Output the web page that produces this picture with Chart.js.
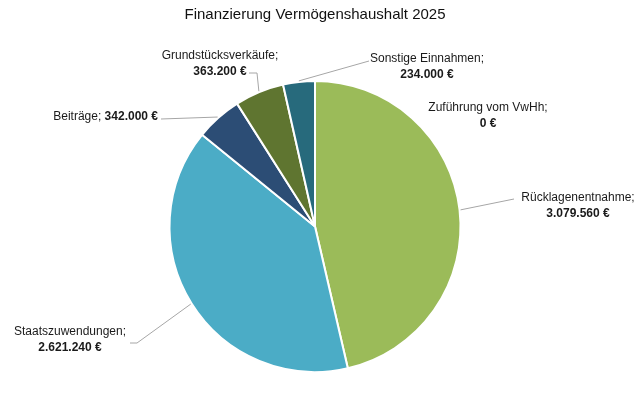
<!DOCTYPE html>
<html lang="de">
<head>
<meta charset="utf-8">
<script src="https://cdn.jsdelivr.net/npm/chart.js@4/dist/chart.umd.min.js"></script>
<style>
    html, body { margin: 0; padding: 0; background: #fff; }
    #wrap { width: 639px; height: 397px; }
</style>
</head>
<body>
<div id="wrap"><canvas id="pieChart" width="639" height="397"></canvas></div>
<script>
// Daten
const titel = 'Finanzierung Vermögenshaushalt 2025';
const kategorien = ['Zuführung vom VwHh', 'Rücklagenentnahme', 'Staatszuwendungen', 'Beiträge', 'Grundstücksverkäufe', 'Sonstige Einnahmen'];
const betraege = [0, 3079560, 2621240, 342000, 363200, 234000];
const farben = ['#9BBB59', '#9BBB59', '#4BACC6', '#2C4D75', '#5F7530', '#276A7C'];

// Beschriftungs-Layout (Textposition + Knickpunkte der Führungslinie)
const labelLayout = [
    { x: 488, y: 108, align: 'center', lines: [] },
    { x: 578, y: 198, align: 'center', lines: [[514, 199]] },
    { x: 70, y: 332, align: 'center', lines: [[137, 343], [130, 343]] },
    { x: 158, y: 117, align: 'right', single: true, lines: [[161, 119]] },
    { x: 220, y: 56, align: 'center', lines: [[257, 73], [249, 73]] },
    { x: 427, y: 59, align: 'center', lines: [[369, 61]] },
];

const fontFamily = '"Liberation Sans", Arial, sans-serif';
const formatEuro = (v) => v.toLocaleString('de-DE') + ' €';

const labelPlugin = {
    id: 'pieLabels',
    afterDraw(chart) {
        const ctx = chart.ctx;
        const meta = chart.getDatasetMeta(0);
        ctx.save();

        // Titel
        ctx.fillStyle = '#111';
        ctx.font = '15px ' + fontFamily;
        ctx.textAlign = 'center';
        ctx.textBaseline = 'middle';
        ctx.fillText(titel, 315, 15);

        meta.data.forEach((arc, i) => {
            const lay = labelLayout[i];
            const { x, y, startAngle, endAngle, outerRadius } = arc.getProps(['x', 'y', 'startAngle', 'endAngle', 'outerRadius'], true);
            const mid = (startAngle + endAngle) / 2;

            // Führungslinie
            if (lay.lines.length) {
                ctx.strokeStyle = '#a6a6a6';
                ctx.lineWidth = 1;
                ctx.beginPath();
                ctx.moveTo(x + Math.cos(mid) * (outerRadius + 1), y + Math.sin(mid) * (outerRadius + 1));
                lay.lines.forEach(p => ctx.lineTo(p[0], p[1]));
                ctx.stroke();
            }

            ctx.fillStyle = '#1a1a1a';
            ctx.textBaseline = 'middle';
            const name = kategorien[i] + ';';
            const wert = formatEuro(betraege[i]);
            if (lay.single) {
                ctx.font = 'bold 12px ' + fontFamily;
                const wW = ctx.measureText(wert).width;
                ctx.textAlign = 'right';
                ctx.fillText(wert, lay.x, lay.y);
                ctx.font = '12px ' + fontFamily;
                ctx.fillText(name + ' ', lay.x - wW, lay.y);
            } else {
                ctx.textAlign = 'center';
                ctx.font = '12px ' + fontFamily;
                ctx.fillText(name, lay.x, lay.y);
                ctx.font = 'bold 12px ' + fontFamily;
                ctx.fillText(wert, lay.x, lay.y + 16);
            }
        });
        ctx.restore();
    }
};

new Chart(document.getElementById('pieChart'), {
    type: 'pie',
    data: {
        labels: kategorien,
        datasets: [{ data: betraege, backgroundColor: farben, borderColor: '#fff', borderWidth: 2 }]
    },
    options: {
        responsive: false,
        animation: false,
        layout: { padding: { top: 80, bottom: 24, left: 0, right: 9 } },
        plugins: { legend: { display: false }, tooltip: { enabled: false }, title: { display: false } }
    },
    plugins: [labelPlugin]
});
</script>
</body>
</html>
